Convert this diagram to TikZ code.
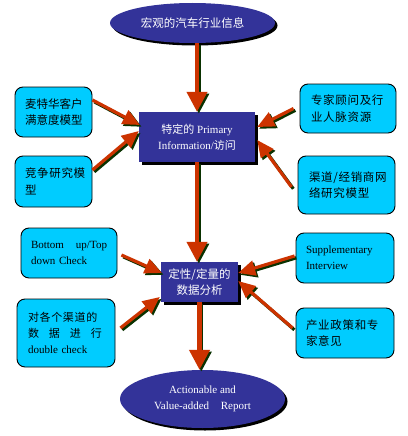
\documentclass[tikz,border=0pt]{standalone}
\usepackage{fontspec}
\setmainfont{Liberation Serif}
\newfontfamily\cjk{Noto Sans CJK SC}
\newfontfamily\cjkwide[LetterSpace=6]{Noto Sans CJK SC}
\usetikzlibrary{arrows.meta,shadows,shapes.geometric}
\definecolor{navy}{RGB}{51,51,153}
\definecolor{sky}{RGB}{0,204,255}
\definecolor{arrred}{RGB}{204,51,0}
\definecolor{shadgreen}{RGB}{10,50,0}
\newcommand\sarrow[3][]{%
  \draw[arrshadow,#1,transform canvas={xshift=1.8pt,yshift=-1.8pt}] #2 -- #3;
  \draw[arrmain,#1] #2 -- #3;}
\begin{document}
\begin{tikzpicture}[x=1pt,y=-1pt,
  font=\fontsize{11}{16}\selectfont,
  cjkfont/.style={font=\cjk\fontsize{11.5}{16.5}\selectfont},
  cjkwfont/.style={font=\cjkwide\fontsize{11.5}{16.5}\selectfont},
  cbox/.style={draw=black,line width=0.9pt,fill=sky,rounded corners=8pt,inner xsep=10pt,inner ysep=0pt,align=left},
  nbox/.style={fill=navy,text=white,align=center,inner sep=0pt,
    general shadow={fill=black,shadow xshift=3pt,shadow yshift=-3pt}},
  nell/.style={ellipse,fill=navy,text=white,align=center,inner sep=0pt,
    general shadow={fill=black,shadow xshift=2.5pt,shadow yshift=-2.5pt}},
  arrmain/.style={draw=arrred,line width=3.2pt,-{Triangle[length=17pt,width=15pt]}},
  arrshadow/.style={draw=shadgreen,line width=3.2pt,-{Triangle[length=17pt,width=15pt]}},
  bigarr/.style={line width=4.2pt,-{Triangle[length=20pt,width=20pt]}}
]
\fill[white] (0,0) rectangle (407,436);
\useasboundingbox (0,0) rectangle (407,436);

% central nodes
\node[nell,cjkfont,minimum width=165,minimum height=40] (e1) at (192.5,23) {宏观的汽车行业信息};
\node[nbox,minimum width=116,minimum height=50] (b1) at (197,137)
  {{\cjk 特定的} Primary\\Information/{\cjk 访问}};
\node[nbox,cjkfont,minimum width=77,minimum height=40] (b2) at (199.5,282) {定性/定量的\\数据分析};
\node[nell,minimum width=165,minimum height=58] (e2) at (202.5,399)
  {Actionable and\\Value-added\hspace{9pt} Report};

% side boxes
\node[cbox,cjkfont,text width=57,minimum height=50] (lb1) at (53.5,112) {麦特华客户\\满意度模型};
\node[cbox,cjkwfont,text width=57,minimum height=51] (lb2) at (53.5,181.5) {竞争研究模\\型};
\node[cbox,cjkwfont,text width=74,minimum height=49,inner xsep=11pt] (rb1) at (348,108.5) {专家顾问及行\\业人脉资源};
\node[cbox,cjkwfont,text width=75,minimum height=58,inner xsep=11pt] (rb2) at (346.5,185) {渠道/经销商网\\络研究模型};
\node[cbox,text width=76,minimum height=50] (lb3) at (69,253)
  {\makebox[76pt][s]{Bottom\hfill up/Top}\\down Check};
\node[cbox,text width=76,minimum height=68,inner xsep=11pt] (lb4) at (66,333)
  {{\cjkwide 对各个渠道的}\\\makebox[74pt][s]{\cjk 数\hfill 据\hfill 进\hfill 行}\\double check};
\node[cbox,text width=78,minimum height=50] (rb3) at (345,258) {Supplementary\\Interview};
\node[cbox,cjkwfont,text width=78,minimum height=50] (rb4) at (345,333) {产业政策和专\\家意见};

% vertical arrows
\sarrow[bigarr]{(b1.north |- e1.south)}{(b1.north)}
\sarrow[bigarr]{(b1.south)}{(b1.south |- b2.north)}
\sarrow[bigarr]{(b2.south)}{(b2.south |- e2.north)}

% arrows into b1
\sarrow{([yshift=12pt]lb1.east)}{([xshift=1pt,yshift=12pt]b1.west)}
\sarrow{([yshift=11.5pt]lb2.east)}{([xshift=0pt,yshift=6pt]b1.west)}
\sarrow{([xshift=-6pt]rb1.west)}{([xshift=2pt,yshift=10pt]b1.east)}
\sarrow{([xshift=-6pt,yshift=-2pt]rb2.west)}{([xshift=2pt,yshift=-3pt]b1.east)}

% arrows into b2
\sarrow{([xshift=4pt,yshift=-2pt]lb3.east)}{([xshift=1pt,yshift=9pt]b2.west)}
\sarrow{([xshift=5pt,yshift=5pt]lb4.east)}{([xshift=-1pt,yshift=-15pt]b2.west)}
\sarrow{([xshift=-1pt,yshift=2pt]rb3.west)}{([yshift=9pt]b2.east)}
\sarrow{([xshift=-3pt,yshift=5pt]rb4.west)}{([yshift=1pt]b2.east)}
\end{tikzpicture}
\end{document}
